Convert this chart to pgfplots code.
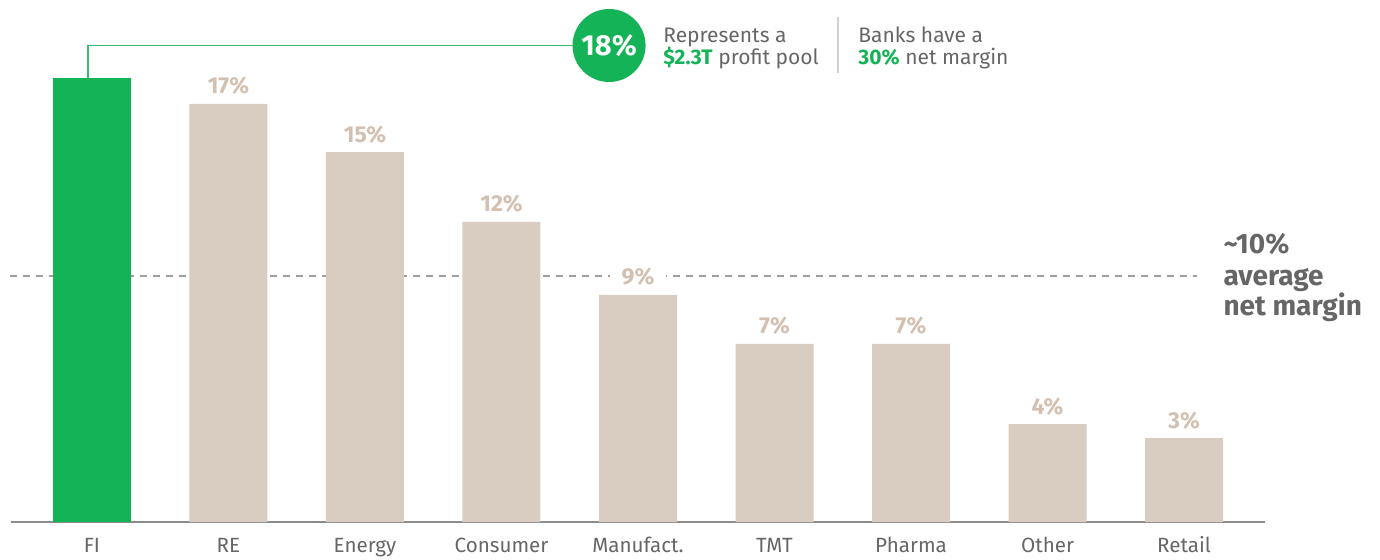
\documentclass[border=0pt]{standalone}
\usepackage{pgfplots}
\pgfplotsset{compat=1.18}
\usepackage{fontspec}
\setmainfont{Fira Sans}
\definecolor{bcggreen}{HTML}{14B357}
\definecolor{beige}{HTML}{D9CCC1}
\definecolor{beigetxt}{HTML}{D3C0B1}
\definecolor{txtgray}{HTML}{666666}
\definecolor{axgray}{HTML}{8C8C8C}
\definecolor{dashgray}{HTML}{9E9E9E}
\definecolor{sepgray}{HTML}{D0D0D0}
\begin{document}
\begin{tikzpicture}
\path[use as bounding box] (-5.5pt,-18.5pt) rectangle (684.5pt,261pt);
\begin{axis}[
  scale only axis, width=627pt, height=246pt,
  xmin=-0.593, xmax=8.593, ymin=0, ymax=20,
  axis x line=bottom, axis y line=none,
  x axis line style={-, draw=axgray, line width=0.75pt},
  xtick={0,...,8},
  xticklabels={FI,RE,Energy,Consumer,Manufact.,TMT,Pharma,Other,Retail},
  major tick length=0pt,
  xticklabel style={font=\fontsize{10.3}{12}\selectfont, text=txtgray, anchor=base, yshift=-15pt},
  clip=false,
  /pgf/number format/assume math mode=true,
]
% ~10% average line
\addplot[sharp plot, draw=dashgray, line width=0.6pt, dash pattern=on 3.5pt off 3pt]
  coordinates {(-0.6,10) (8.095,10)};
% FI bar
\addplot[ybar, bar width=39pt, fill=bcggreen, draw=none] coordinates {(0,18.05)};
% other sectors
\addplot[ybar, bar width=39pt, fill=beige, draw=none,
  nodes near coords={\pgfmathprintnumber[fixed,precision=0]{\pgfplotspointmeta}\%},
  nodes near coords style={anchor=base, yshift=5pt, font=\bfseries\fontsize{11.5}{13}\selectfont,
    text=beigetxt, fill=white, inner xsep=6pt, inner ysep=1pt}]
  coordinates {(1,17.0) (2,15.04) (3,12.2) (4,9.23) (5,7.24) (6,7.24) (7,3.98) (8,3.41)};

% callout
\draw[bcggreen!85, line width=0.75pt] (axis cs:-0.029,18.05) |- (axis cs:3.788,19.37);
\node[circle, fill=bcggreen, minimum size=36.5pt, inner sep=0pt, text=white,
  font=\bfseries\fontsize{14.5}{16}\selectfont] at (axis cs:3.788,19.37) {18\%};
\node[anchor=base west, inner sep=0pt, text=txtgray, font=\fontsize{10.5}{12}\selectfont]
  at (axis cs:4.183,19.51) {Represents a};
\node[anchor=base west, inner sep=0pt, text=txtgray, font=\fontsize{10.5}{12}\selectfont]
  at (axis cs:4.183,18.58) {\textcolor{bcggreen}{\bfseries\$2.3T} profit pool};
\draw[sepgray, line width=0.6pt] (axis cs:5.465,20.53) -- (axis cs:5.465,18.25);
\node[anchor=base west, inner sep=0pt, text=txtgray, font=\fontsize{10.5}{12}\selectfont]
  at (axis cs:5.612,19.51) {Banks have a};
\node[anchor=base west, inner sep=0pt, text=txtgray, font=\fontsize{10.5}{12}\selectfont]
  at (axis cs:5.612,18.58) {\textcolor{bcggreen}{\bfseries 30\%} net margin};

% average label
\node[anchor=base west, inner sep=0pt, text=txtgray, font=\bfseries\fontsize{14}{15}\selectfont]
  at (axis cs:8.286,10.93) {\textasciitilde10\%};
\node[anchor=base west, inner sep=0pt, text=txtgray, font=\bfseries\fontsize{14}{15}\selectfont]
  at (axis cs:8.286,9.63) {average};
\node[anchor=base west, inner sep=0pt, text=txtgray, font=\bfseries\fontsize{14}{15}\selectfont]
  at (axis cs:8.286,8.41) {net margin};
\end{axis}
\end{tikzpicture}
\end{document}
